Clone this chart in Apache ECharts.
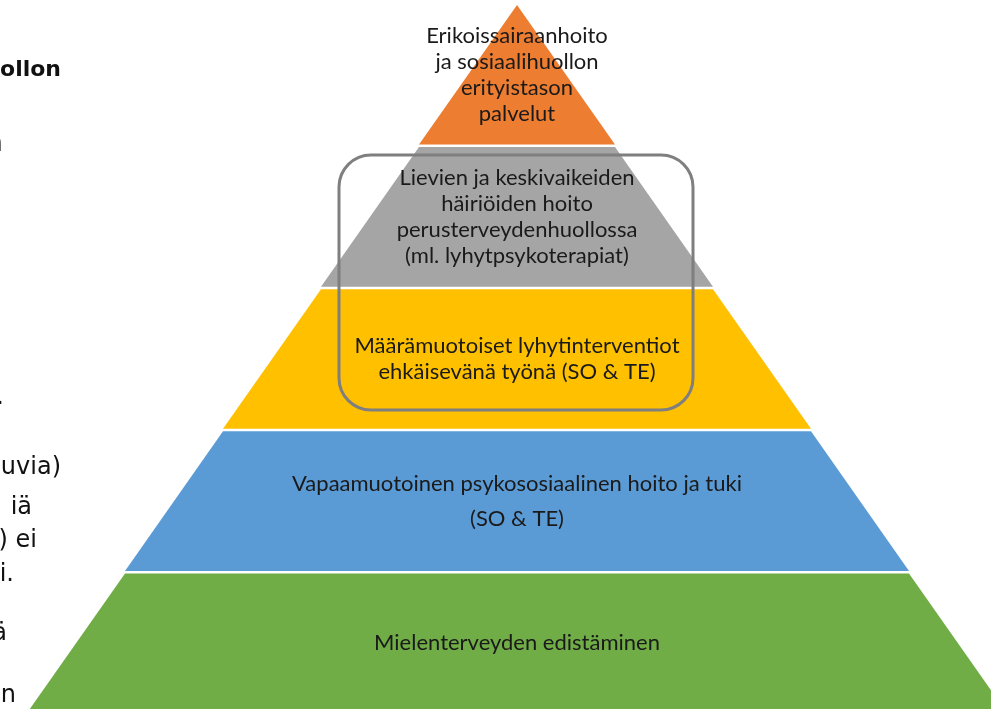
<!DOCTYPE html>
<html>
<head>
<meta charset="utf-8">
<script src="https://cdn.jsdelivr.net/npm/echarts/dist/echarts.min.js"></script>
<style>
    html, body { margin: 0; padding: 0; background: #fff; }
    #main { width: 991px; height: 709px; }
</style>
</head>
<body>
<div id="main"></div>
<script>
// pyramid levels, top to bottom
var levelNames = [
    'Erikoissairaanhoito\nja sosiaalihuollon\nerityistason\npalvelut',
    'Lievien ja keskivaikeiden\nhäiriöiden hoito\nperusterveydenhuollossa\n(ml. lyhytpsykoterapiat)',
    'Määrämuotoiset lyhytinterventiot\nehkäisevänä työnä (SO & TE)',
    'Vapaamuotoinen psykososiaalinen hoito ja tuki\n(SO & TE)',
    'Mielenterveyden edistäminen'
];
var levelValues = [1, 2, 3, 4, 5];
var levelColors = ['#ED7D31', '#A5A5A5', '#FFC000', '#5B9BD5', '#70AD47'];

// cut-off text of the neighbouring slide on the left
var sideTexts = ['ollon', 'n', '.', 'uvia)', 'iä', ') ei', 'i.', 'ä', 'n'];

var data = [];
for (var i = 0; i < levelNames.length; i++) {
    var item = {
        name: levelNames[i],
        value: levelValues[i],
        itemStyle: { color: levelColors[i] }
    };
    if (i == 3) {
        item.label = { lineHeight: 35 };
    }
    data.push(item);
}

function sideText(i, right, y, bold, color) {
    return {
        type: 'text',
        x: right,
        y: y,
        style: {
            text: sideTexts[i],
            x: 0,
            y: 0,
            align: 'right',
            verticalAlign: 'middle',
            fill: color || '#111',
            font: (bold ? 'bold 22px' : '24px') + ' "DejaVu Sans"'
        }
    };
}

var option = {
    backgroundColor: '#fff',
    animation: false,
    graphic: [
        sideText(0, 61, 70, true),
        sideText(1, 3, 145, false, '#666'),
        sideText(2, 4, 398, false),
        sideText(3, 61, 468, false),
        sideText(4, 32, 508, false),
        sideText(5, 37, 541, false),
        sideText(6, 14, 575, false),
        sideText(7, 7, 634, false),
        sideText(8, 16, 696, false),
        {
            type: 'rect',
            z: 100,
            shape: { x: 339, y: 155, width: 354, height: 255, r: 32 },
            style: { fill: 'none', stroke: '#7F7F7F', lineWidth: 3 }
        }
    ],
    series: [
        {
            type: 'funnel',
            sort: 'ascending',
            left: 27,
            top: 5,
            width: 980,
            height: 708,
            min: 0,
            max: 5,
            minSize: '0%',
            maxSize: '100%',
            gap: 2.5,
            itemStyle: { borderWidth: 0 },
            label: {
                show: true,
                position: 'inside',
                color: '#1a1a1a',
                fontFamily: 'Lato',
                fontSize: 22,
                lineHeight: 26
            },
            labelLine: { show: false },
            emphasis: { disabled: true },
            data: data
        }
    ]
};

echarts.init(document.getElementById('main')).setOption(option);
</script>
</body>
</html>
